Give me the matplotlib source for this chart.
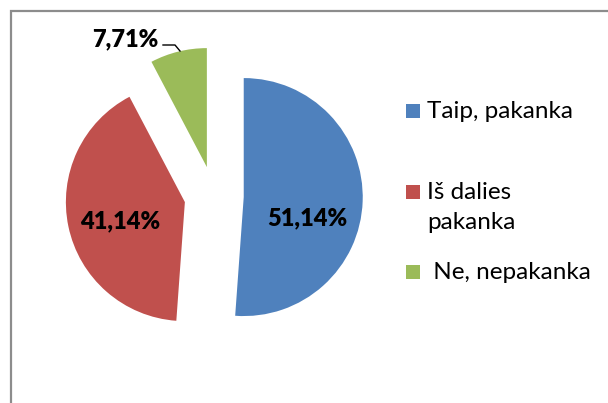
import matplotlib
matplotlib.use("Agg")
import matplotlib.pyplot as plt
from matplotlib.patches import Rectangle

# ---- data ----
categories = ["Taip, pakanka", "Iš dalies\npakanka", " Ne, nepakanka"]
values = [51.14, 41.14, 7.71]
colors = ["#4F81BD", "#C0504D", "#9BBB59"]

W, H = 608, 403
fig = plt.figure(figsize=(W / 100, H / 100), dpi=100)

# pie axes: center at pixel (214,196), radius 119 px
cx, cy, R = 214, 196, 119
ax = fig.add_axes([0, 0, 1, 1])
ax.pie(values, colors=colors, startangle=90, counterclock=False,
       explode=[0.25] * len(values), radius=1,
       wedgeprops=dict(linewidth=0))
ax.set_aspect("auto")
ax.set_xlim(-cx / R, (W - cx) / R)
ax.set_ylim(-(H - cy) / R, cy / R)
ax.axis("off")

# overlay in pixel coordinates
ov = fig.add_axes([0, 0, 1, 1], facecolor="none")
ov.set_xlim(0, W)
ov.set_ylim(H, 0)
ov.axis("off")

# frame
ov.plot([11, 11, W + 5], [H + 5, 11, 11], color="#8c8c8c", lw=1.6,
        solid_joinstyle="miter", clip_on=False)

# data labels
label_pos = [(307, 225), (120, 228), (125.5, 46)]
for v, (x, y) in zip(values, label_pos):
    ov.text(x, y, f"{v:.2f}%".replace(".", ","), ha="center", va="baseline",
            fontsize=17, fontweight="heavy", family="Lato", color="black")
# leader line for the small slice
ov.plot([163, 175, 180], [45, 45, 51], color="black", lw=1.0)

# legend
leg_base = [118, 199, 279]
line_gap = 30
for lab, col, yb in zip(categories, colors, leg_base):
    ov.add_patch(Rectangle((406, yb - 14), 14, 14, color=col, lw=0))
    for i, part in enumerate(lab.split("\n")):
        ov.text(427, yb + i * line_gap, part, ha="left", va="baseline",
                fontsize=17.5, family="Lato", color="black")

fig.savefig("out.png", dpi=100)
